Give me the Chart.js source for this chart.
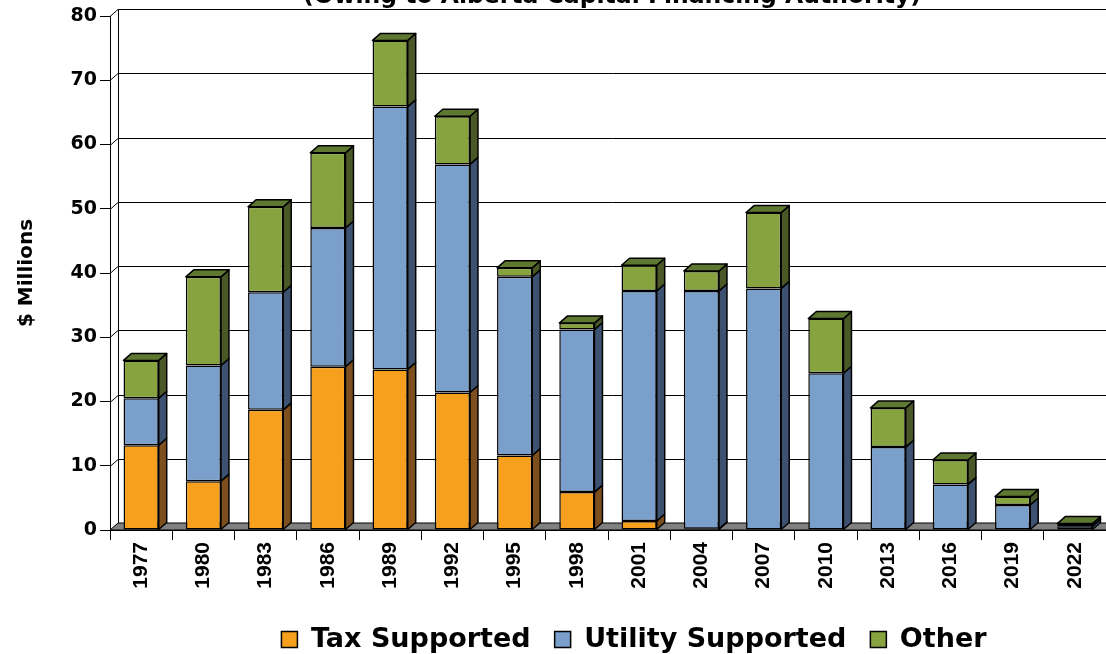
<!DOCTYPE html>
<html>
<head>
<meta charset="utf-8">
<script src="https://cdn.jsdelivr.net/npm/chart.js"></script>
<style>
  body { margin: 0; background: #fff; }
  #wrap { width: 1106px; height: 654px; }
</style>
</head>
<body>
<div id="wrap"><canvas id="debtChart"></canvas></div>
<script>
const years = ['1977', '1980', '1983', '1986', '1989', '1992', '1995', '1998',
               '2001', '2004', '2007', '2010', '2013', '2016', '2019', '2022'];
const taxSupported     = [13.2, 7.6, 18.7, 25.4, 25.0, 21.4, 11.6, 5.9, 1.4, 0.2, 0, 0, 0, 0, 0, 0];
const utilitySupported = [7.3, 18.0, 18.3, 21.6, 40.9, 35.5, 27.8, 25.3, 35.8, 37.0, 37.6, 24.4, 12.9, 7.1, 3.9, 0.6];
const otherDebt        = [5.9, 13.8, 13.3, 11.7, 10.3, 7.5, 1.4, 1.0, 4.0, 3.1, 11.8, 8.5, 6.1, 3.8, 1.3, 0.4];
const yTicks = [0, 10, 20, 30, 40, 50, 60, 70, 80];

const FONT = "'DejaVu Sans', Verdana, sans-serif";
const DX = 8, DY = 7;                 // depth of the 3-D effect
const sideColors = ['#7d4f1f', '#3d5270', '#4a5726'];
const topColors  = ['#a86c22', '#56709a', '#5f7831'];

// back wall, floor and the depth faces of the columns
const depth3d = {
  id: 'depth3d',
  beforeDatasetsDraw(chart) {
    const { ctx, chartArea: { left, right, top, bottom } } = chart;
    const y = chart.scales.y;
    ctx.save();
    ctx.strokeStyle = '#000';
    ctx.lineWidth = 1;
    yTicks.forEach(v => {
      if (v === 0) return;
      const py = Math.round(y.getPixelForValue(v)) + 0.5;
      ctx.beginPath();
      ctx.moveTo(left, py);
      ctx.lineTo(left + DX, py - DY);
      ctx.lineTo(right + DX, py - DY);
      ctx.stroke();
    });
    ctx.beginPath();
    ctx.moveTo(left + DX + 0.5, top - DY);
    ctx.lineTo(left + DX + 0.5, bottom - DY);
    ctx.stroke();
    // floor
    ctx.beginPath();
    ctx.moveTo(left, bottom);
    ctx.lineTo(left + DX, bottom - DY);
    ctx.lineTo(right + DX, bottom - DY);
    ctx.lineTo(right, bottom);
    ctx.closePath();
    ctx.fillStyle = '#808080';
    ctx.fill();
    ctx.stroke();
    ctx.restore();
  },
  afterDatasetsDraw(chart) {
    const ctx = chart.ctx;
    const n = chart.data.labels.length;
    ctx.save();
    ctx.strokeStyle = '#000';
    ctx.lineWidth = 1.5;
    ctx.lineJoin = 'round';
    for (let j = 0; j < n; j++) {
      let topIdx = -1;
      chart.data.datasets.forEach((ds, i) => { if (ds.data[j] > 0) topIdx = i; });
      chart.data.datasets.forEach((ds, i) => {
        if (!(ds.data[j] > 0)) return;
        const el = chart.getDatasetMeta(i).data[j];
        const { x, y, base, width } = el.getProps(['x', 'y', 'base', 'width'], true);
        const x1 = x - width / 2, x2 = x + width / 2;
        const yt = Math.min(y, base), yb = Math.max(y, base);
        ctx.beginPath();
        ctx.moveTo(x2, yb);
        ctx.lineTo(x2 + DX, yb - DY);
        ctx.lineTo(x2 + DX, yt - DY);
        ctx.lineTo(x2, yt);
        ctx.closePath();
        ctx.fillStyle = sideColors[i];
        ctx.fill();
        ctx.stroke();
        if (i === topIdx) {
          ctx.beginPath();
          ctx.moveTo(x1, yt);
          ctx.lineTo(x1 + DX, yt - DY);
          ctx.lineTo(x2 + DX, yt - DY);
          ctx.lineTo(x2, yt);
          ctx.closePath();
          ctx.fillStyle = topColors[i];
          ctx.fill();
          ctx.stroke();
        }
      });
    }
    ctx.restore();
  }
};

// heading line above the plot, partly cut off at the top edge
const heading = {
  id: 'heading',
  afterDraw(chart) {
    const ctx = chart.ctx;
    ctx.save();
    ctx.font = 'bold 23.5px ' + FONT;
    ctx.fillStyle = '#000';
    ctx.textAlign = 'center';
    ctx.textBaseline = 'alphabetic';
    ctx.fillText('(Owing to Alberta Capital Financing Authority)', 612, 3);
    ctx.restore();
  }
};

// move the legend under the plot centre and a little lower
const legendShift = {
  id: 'legendShift',
  afterLayout(chart) {
    const lg = chart.legend;
    const dx = 634 - (lg.left + lg.right) / 2;
    lg.left += dx; lg.right += dx;
    lg.top += 9; lg.bottom += 9;
  }
};

const bar = (label, data, color) => ({
  label, data,
  backgroundColor: color,
  borderColor: '#000',
  borderWidth: 1.5,
  borderSkipped: false,
  categoryPercentage: 1,
  barPercentage: 0.565
});

new Chart(document.getElementById('debtChart'), {
  type: 'bar',
  data: {
    labels: years,
    datasets: [
      bar('Tax Supported', taxSupported, '#f7a01e'),
      bar('Utility Supported', utilitySupported, '#7a9fcb'),
      bar('Other', otherDebt, '#86a33f')
    ]
  },
  plugins: [depth3d, heading, legendShift],
  options: {
    responsive: true,
    maintainAspectRatio: false,
    animation: false,
    layout: { padding: { top: 16, left: 0, right: 0, bottom: 0 } },
    plugins: {
      tooltip: { enabled: false },
      legend: {
        position: 'bottom',
        labels: {
          boxWidth: 16,
          boxHeight: 16,
          padding: 24,
          color: '#000',
          font: { family: FONT, weight: 'bold', size: 27 }
        }
      }
    },
    scales: {
      x: {
        stacked: true,
        offset: true,
        grid: { offset: true, drawOnChartArea: false, tickLength: 10, color: '#000' },
        border: { color: '#000', width: 1 },
        ticks: {
          autoSkip: false,
          minRotation: 90,
          maxRotation: 90,
          padding: 2,
          color: '#000',
          font: { family: "'Liberation Sans', Arial, sans-serif", weight: 'bold', size: 21 }
        },
        afterFit(s) { s.height = 124 - s.chart.legend.height; }
      },
      y: {
        stacked: true,
        min: 0,
        max: 80,
        afterBuildTicks(s) { s.ticks = yTicks.map(v => ({ value: v })); },
        grid: { drawOnChartArea: false, tickLength: 10, color: '#000' },
        border: { color: '#000', width: 1 },
        ticks: {
          padding: 3,
          color: '#000',
          font: { family: FONT, weight: 'bold', size: 19 }
        },
        title: {
          display: true,
          text: '$ Millions',
          color: '#000',
          padding: { top: 15, bottom: 0 },
          font: { family: FONT, weight: 'bold', size: 20 }
        },
        afterFit(s) { s.width = 110; }
      }
    }
  }
});
</script>
</body>
</html>
